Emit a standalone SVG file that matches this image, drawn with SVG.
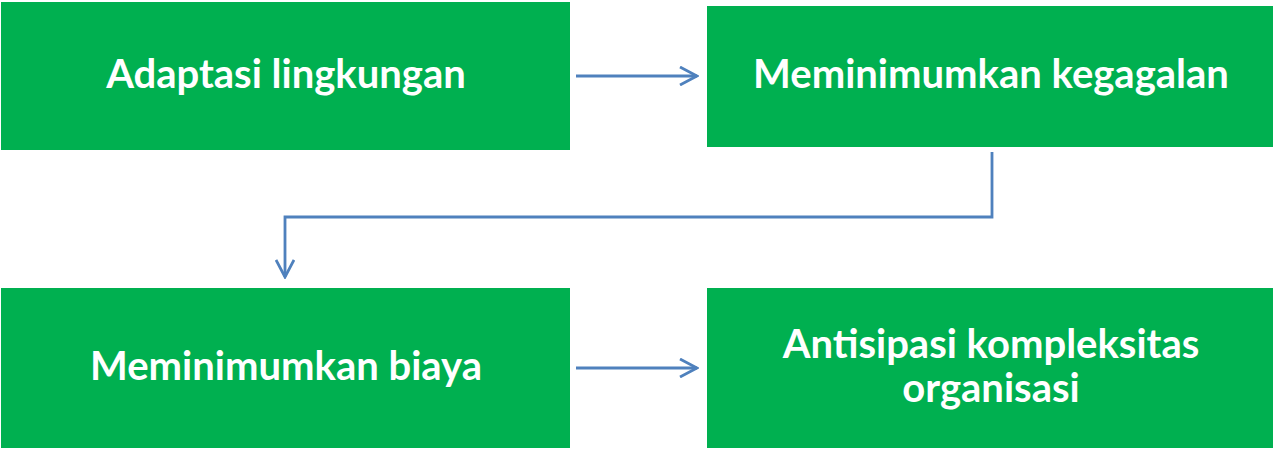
<svg xmlns="http://www.w3.org/2000/svg" width="1274" height="450" viewBox="0 0 1274 450">
<defs>
<style>
.box{fill:#00B050;}
.lbl{font-family:Lato,"Open Sans","Liberation Sans",sans-serif;font-weight:bold;font-size:40px;fill:#fff;text-anchor:middle;}
.con{stroke:#4F81BD;stroke-width:2.8;fill:none;}
</style>
<marker id="arr" viewBox="0 0 20 20" refX="18" refY="10" markerWidth="20" markerHeight="20" markerUnits="userSpaceOnUse" orient="auto">
<path d="M1,1 L18,10 L1,19" fill="none" stroke="#4F81BD" stroke-width="2.8"/>
</marker>
</defs>
<rect width="1274" height="450" fill="#fff"/>
<g id="node1"><rect class="box" x="1" y="2" width="569" height="148"/><text class="lbl" x="286" y="88">Adaptasi lingkungan</text></g>
<g id="node2"><rect class="box" x="707" y="6" width="566" height="141"/><text class="lbl" x="991" y="88">Meminimumkan kegagalan</text></g>
<g id="node3"><rect class="box" x="1" y="288" width="569" height="160"/><text class="lbl" x="286" y="380">Meminimumkan biaya</text></g>
<g id="node4"><rect class="box" x="707" y="288" width="566" height="160"/><text class="lbl" x="991" y="358">Antisipasi kompleksitas</text><text class="lbl" x="991" y="402">organisasi</text></g>
<g id="connectors">
<path class="con" d="M576,76 H697" marker-end="url(#arr)"/>
<path class="con" d="M992,152 V217 H285 V277" marker-end="url(#arr)"/>
<path class="con" d="M576,368 H697" marker-end="url(#arr)"/>
</g>
</svg>
